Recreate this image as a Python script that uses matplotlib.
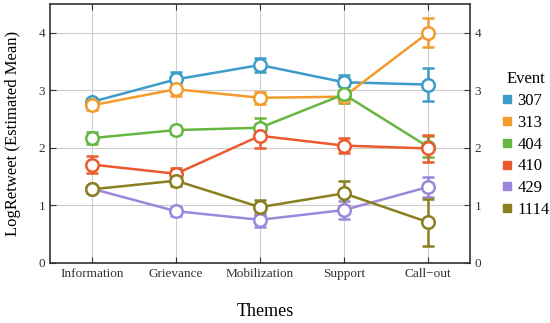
import matplotlib
matplotlib.use("Agg")
import matplotlib.pyplot as plt
from matplotlib.lines import Line2D
import numpy as np

themes = ["Information", "Grievance", "Mobilization", "Support", "Call\u2212out"]
events = ["307", "313", "404", "410", "429", "1114"]

means = {
    "307":  [2.80, 3.19, 3.44, 3.14, 3.10],
    "313":  [2.74, 3.02, 2.87, 2.89, 4.00],
    "404":  [2.17, 2.31, 2.35, 2.93, 2.02],
    "410":  [1.71, 1.55, 2.21, 2.04, 1.99],
    "429":  [1.29, 0.90, 0.75, 0.92, 1.32],
    "1114": [1.28, 1.43, 0.97, 1.21, 0.71],
}
errs = {
    "307":  [0.05, 0.12, 0.12, 0.13, 0.28],
    "313":  [0.08, 0.12, 0.10, 0.08, 0.25],
    "404":  [0.10, 0.07, 0.17, 0.15, 0.18],
    "410":  [0.15, 0.10, 0.21, 0.13, 0.23],
    "429":  [0.05, 0.08, 0.12, 0.16, 0.18],
    "1114": [0.06, 0.10, 0.13, 0.22, 0.41],
}
colors = {
    "307": "#3C9CC8",
    "313": "#F39C2B",
    "404": "#65B741",
    "410": "#EB5A2E",
    "429": "#9B87DB",
    "1114": "#8B7E1F",
}

plt.rcParams["font.family"] = ["Liberation Serif", "DejaVu Serif"]

fig = plt.figure(figsize=(5.5, 3.23), dpi=100)
ax = fig.add_axes([0.0909, 0.1858, 0.7636, 0.8018])

x = np.arange(len(themes))
for ev in events:
    ax.errorbar(x, means[ev], yerr=errs[ev], color=colors[ev], lw=1.8,
                marker="o", ms=9, mfc="white", mec=colors[ev], mew=1.8,
                capsize=4, capthick=1.8, elinewidth=1.8, zorder=3)

ax.set_xlim(-0.5, 4.5)
ax.set_ylim(0, 4.5)
ax.set_xticks(x)
ax.set_xticklabels(themes, fontsize=9.5)
ax.set_yticks([0, 1, 2, 3, 4])
ax.tick_params(axis="y", direction="in", right=True, labelright=True,
               labelsize=9.5, length=4, colors="#333333")
ax.tick_params(axis="x", direction="in", top=True, labelsize=9.5, length=4,
               colors="#333333")
ax.grid(True, color="#cccccc", lw=0.8, zorder=0)
for s in ax.spines.values():
    s.set_color("#333333")
    s.set_linewidth(1.2)

ax.set_ylabel("LogRetweet (Estimated Mean)", fontsize=12)
ax.yaxis.set_label_coords(-0.07, 0.5)
fig.text(0.482, 0.035, "Themes", fontsize=13, ha="center", va="center")

handles = [Line2D([], [], marker="s", ls="", color=colors[ev], ms=6)
           for ev in events]
leg = fig.legend(handles, events, title="Event", loc="upper left",
                 bbox_to_anchor=(0.912, 0.78), frameon=False, fontsize=12,
                 title_fontsize=12, handlelength=0.6, handletextpad=0.35,
                 labelspacing=0.35, borderaxespad=0, borderpad=0)

fig.savefig("out.png", dpi=100)
